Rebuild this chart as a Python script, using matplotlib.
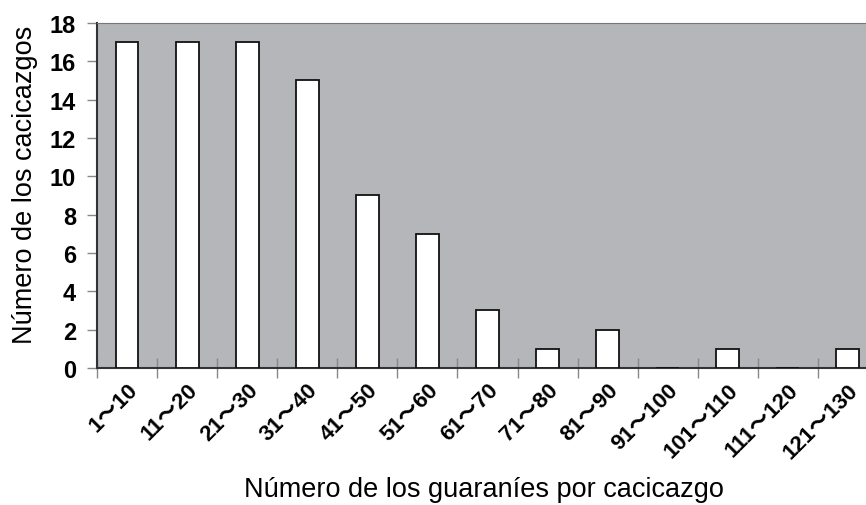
import matplotlib
matplotlib.use('Agg')
import matplotlib.pyplot as plt
import numpy as np

plt.rcParams['font.family'] = ['Liberation Sans', 'Noto Sans CJK JP', 'DejaVu Sans']

# ── data ──
categories = ['1～10', '11～20', '21～30', '31～40', '41～50', '51～60', '61～70',
              '71～80', '81～90', '91～100', '101～110', '111～120', '121～130']
counts = [17, 17, 17, 15, 9, 7, 3, 1, 2, 0, 1, 0, 1]
yticks = [0, 2, 4, 6, 8, 10, 12, 14, 16, 18]

fig = plt.figure(figsize=(8.66, 5.06), dpi=100)
ax = fig.add_axes([0.112, 0.2708, 0.9018, 0.6818])
ax.set_facecolor('#b5b6ba')

x = np.arange(len(categories))
ax.bar(x, counts, width=0.38, color='white', edgecolor='#111111', linewidth=1.3, zorder=3)

ax.set_xlim(-0.5, len(categories) - 0.5)
ax.set_ylim(0, 18)

# boundary ticks (major) and centred labels (minor)
ax.set_xticks(np.arange(len(categories) + 1) - 0.5)
ax.set_xticklabels([])
ax.tick_params(axis='x', which='major', direction='inout', length=14, width=1, color='#888888')
ax.set_xticks(x, minor=True)
ax.set_xticklabels(categories, minor=True, rotation=45, ha='right', rotation_mode='anchor',
                   fontsize=16, fontweight='bold')
ax.tick_params(axis='x', which='minor', length=0, pad=8)

ax.set_yticks(yticks)
ax.set_yticklabels([str(v) for v in yticks], fontsize=17, fontweight='bold')
ax.tick_params(axis='y', direction='out', length=7, width=1, color='#888888', pad=8)

for s in ['left', 'bottom']:
    ax.spines[s].set_color('#333333')
    ax.spines[s].set_linewidth(1.5)
ax.spines['top'].set_color('#777777')
ax.spines['right'].set_visible(False)

fig.text(0.029, 0.635, 'Número de los cacicazgos', fontsize=19.5, rotation=90,
         ha='center', va='center')
fig.text(0.559, 0.032, 'Número de los guaraníes por cacicazgo', fontsize=19.5,
         ha='center', va='center')

plt.savefig('out.png', dpi=100)
plt.close()
